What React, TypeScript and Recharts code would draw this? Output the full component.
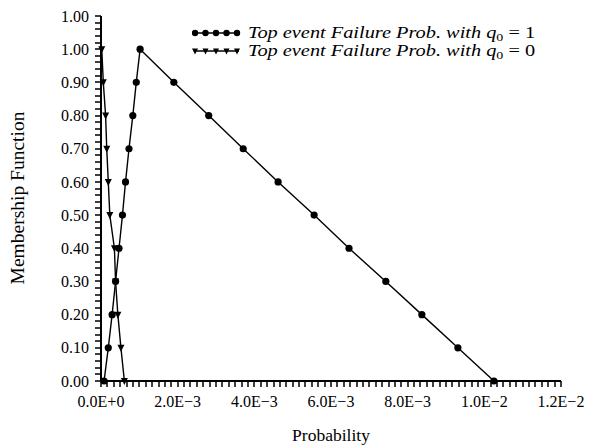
import React from 'react';
import { LineChart, Line, XAxis, YAxis, Legend } from 'recharts';

// ---- data ----
const Q1_X = [0.00008, 0.00019, 0.00029, 0.00038, 0.00047, 0.00056, 0.00064, 0.00073, 0.00083, 0.00092, 0.00102,
  0.0019, 0.00281, 0.00371, 0.00462, 0.00556, 0.00647, 0.00743, 0.00837, 0.00931, 0.01025];
const Q1_Y = [0.0, 0.1, 0.2, 0.3, 0.4, 0.5, 0.6, 0.7, 0.8, 0.9, 1.0,
  0.9, 0.8, 0.7, 0.6, 0.5, 0.4, 0.3, 0.2, 0.1, 0.0];
const Q0_X = [0.00002, 0.00006, 0.00012, 0.00015, 0.00019, 0.00023, 0.00035, 0.00038, 0.00044, 0.00052, 0.00061];
const Q0_Y = [1.0, 0.9, 0.8, 0.7, 0.6, 0.5, 0.4, 0.3, 0.2, 0.1, 0.0];

const X_TICK_LABELS = ['0.0E+0', '2.0E\u22123', '4.0E\u22123', '6.0E\u22123', '8.0E\u22123', '1.0E\u22122', '1.2E\u22122'];
const X_MAJOR_STEP = 0.002;
const X_MINOR_PER_MAJOR = 12;
const Y_TICK_LABELS = ['0.00', '0.10', '0.20', '0.30', '0.40', '0.50', '0.60', '0.70', '0.80', '0.90', '1.00', '1.00'];
const Y_MAJOR_STEP = 0.1;
const Y_MINOR_PER_MAJOR = 5;

const SERIES_NAMES = ['1', '0'];

const q1Data = Q1_X.map((x, i) => ({ x, y: Q1_Y[i] }));
const q0Data = Q0_X.map((x, i) => ({ x, y: Q0_Y[i] }));

const X_MAX = X_MAJOR_STEP * (X_TICK_LABELS.length - 1);
const Y_MAX = Y_MAJOR_STEP * (Y_TICK_LABELS.length - 1);
const xStep = X_MAJOR_STEP / X_MINOR_PER_MAJOR;
const yStep = Y_MAJOR_STEP / Y_MINOR_PER_MAJOR;
const xTicks = Array.from({ length: (X_TICK_LABELS.length - 1) * X_MINOR_PER_MAJOR + 1 }, (_, i) => i * xStep);
const yTicks = Array.from({ length: (Y_TICK_LABELS.length - 1) * Y_MINOR_PER_MAJOR + 1 }, (_, i) => i * yStep);

const FONT = '"Liberation Serif", "Times New Roman", serif';
const TICK_LEN = 5;

const XTick = (props: any) => {
  const { x, y, payload } = props;
  const i = Math.round(payload.value / xStep);
  const major = i % X_MINOR_PER_MAJOR === 0;
  return (
    <g>
      <rect x={Math.round(x) - 0.75} y={y - TICK_LEN} width={1.5} height={TICK_LEN + 1} fill="#000" />
      {major && (
        <text x={x} y={y + 21} textAnchor="middle" fontFamily={FONT} fontSize={16} fill="#000">
          {X_TICK_LABELS[i / X_MINOR_PER_MAJOR]}
        </text>
      )}
    </g>
  );
};

const YTick = (props: any) => {
  const { x, y, payload } = props;
  const i = Math.round(payload.value / yStep);
  const major = i % Y_MINOR_PER_MAJOR === 0;
  return (
    <g>
      <rect x={x - 1} y={Math.round(y) - 0.75} width={TICK_LEN + 1} height={1.5} fill="#000" />
      {major && (
        <text x={x - 7} y={y} dy="0.35em" textAnchor="end" fontFamily={FONT} fontSize={16} fill="#000">
          {Y_TICK_LABELS[i / Y_MINOR_PER_MAJOR]}
        </text>
      )}
    </g>
  );
};

const CircleDot = (props: any) => {
  const { cx, cy, index } = props;
  return <circle key={`c${index}`} cx={cx} cy={cy} r={3.6} fill="#000" />;
};

const TriDot = (props: any) => {
  const { cx, cy, index } = props;
  return (
    <polygon key={`t${index}`} points={`${cx - 3.5},${cy - 3} ${cx + 3.5},${cy - 3} ${cx},${cy + 4}`} fill="#000" />
  );
};

const LegendMarkers = ({ kind }: { kind: string }) => (
  <svg width={50} height={10} style={{ display: 'block', marginRight: 6 }}>
    <line x1={2} x2={47} y1={5} y2={5} stroke="#000" strokeWidth={1.5} />
    {[3, 13.5, 24, 34.5, 45].map((cx, k) =>
      kind === 'circle' ? (
        <circle key={k} cx={cx} cy={5} r={3.2} fill="#000" />
      ) : (
        <polygon key={k} points={`${cx - 3},${5 - 2.5} ${cx + 3},${5 - 2.5} ${cx},${5 + 3.5}`} fill="#000" />
      )
    )}
  </svg>
);

const LegendContent = () => (
  <div style={{ fontFamily: FONT, fontSize: 16, color: '#000' }}>
    {SERIES_NAMES.map((q, k) => (
      <div key={k} style={{ display: 'flex', alignItems: 'center', height: 18, whiteSpace: 'nowrap' }}>
        <LegendMarkers kind={k === 0 ? 'circle' : 'tri'} />
        <span style={{ display: 'inline-block', transform: 'scaleX(1.27)', transformOrigin: 'left center', lineHeight: '16px' }}>
          <i>Top event Failure Prob. with q</i>
          <sub style={{ fontSize: 11, verticalAlign: '-3px', lineHeight: '10px' }}>0</sub>
          <span> = {q}</span>
        </span>
      </div>
    ))}
  </div>
);

export default function App() {
  return (
    <div style={{ position: 'absolute', left: 0, top: 0, width: 603, height: 448, background: '#fff' }}>
      <LineChart width={603} height={448} margin={{ top: 16, right: 42, bottom: 7, left: 8 }}>
        <XAxis
          dataKey="x"
          type="number"
          domain={[0, X_MAX]}
          ticks={xTicks}
          interval={0}
          tick={<XTick />}
          tickLine={false}
          tickSize={TICK_LEN}
          tickMargin={0}
          height={60}
          axisLine={{ stroke: '#000', strokeWidth: 2 }}
          label={{
            content: () => (
              <text x={331} y={441} textAnchor="middle" fontFamily={FONT} fontSize={17.5} fill="#000">
                Probability
              </text>
            ),
          }}
        />
        <XAxis xAxisId="top" orientation="top" type="number" domain={[0, X_MAX]} height={0} tick={false} tickLine={false}
          axisLine={{ stroke: '#000', strokeWidth: 2 }} />
        <YAxis
          dataKey="y"
          type="number"
          domain={[0, Y_MAX]}
          ticks={yTicks}
          interval={0}
          tick={<YTick />}
          tickLine={false}
          tickSize={TICK_LEN}
          tickMargin={0}
          width={93}
          axisLine={{ stroke: '#000', strokeWidth: 2 }}
          label={{
            content: () => (
              <text x={17} y={198} textAnchor="middle" dominantBaseline="central" transform="rotate(-90 17 198)"
                fontFamily={FONT} fontSize={19.5} fill="#000">
                Membership Function
              </text>
            ),
          }}
        />
        <YAxis yAxisId="right" orientation="right" type="number" domain={[0, Y_MAX]} width={0} tick={false} tickLine={false}
          axisLine={{ stroke: '#000', strokeWidth: 2 }} />
        <Legend
          layout="horizontal"
          verticalAlign="middle"
          align="center"
          wrapperStyle={{ left: 192, top: 24, width: 'auto' }}
          content={<LegendContent />}
        />
        <Line data={q1Data} dataKey="y" type="linear" stroke="#000" strokeWidth={1.4} dot={<CircleDot />}
          activeDot={false} isAnimationActive={false} name="q1" />
        <Line data={q0Data} dataKey="y" type="linear" stroke="#000" strokeWidth={1.4} dot={<TriDot />}
          activeDot={false} isAnimationActive={false} name="q0" />
      </LineChart>
    </div>
  );
}
